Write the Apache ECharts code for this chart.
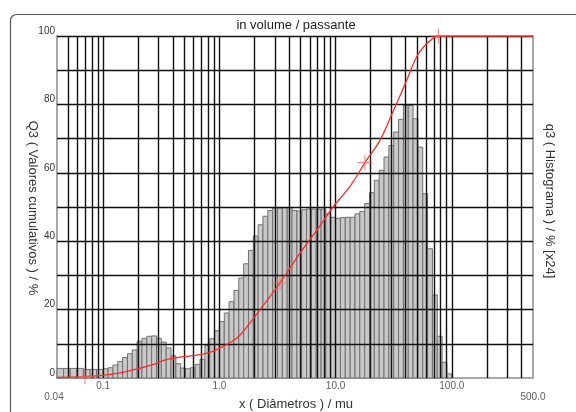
<!DOCTYPE html>
<html>
<head>
<meta charset="utf-8">
<script src="https://cdn.jsdelivr.net/npm/echarts@6/dist/echarts.min.js"></script>
<style>
html, body { margin: 0; padding: 0; background: #fff; }
#chart { width: 576px; height: 412px; }
</style>
</head>
<body>
<div id="chart"></div>
<script>
// Size class boundaries (µm) of the histogram
const classEdges = [
  0.04, 0.0456, 0.052, 0.0592, 0.0675, 0.077, 0.0877,
  0.1, 0.1101, 0.1212, 0.1334, 0.1468, 0.1616, 0.1778, 0.1957, 0.2154, 0.2371, 0.261, 0.2873,
  0.3162, 0.3481, 0.3831, 0.4217, 0.4642, 0.5109, 0.5623, 0.619, 0.6813, 0.7499, 0.8254, 0.9085,
  1, 1.101, 1.212, 1.334, 1.468, 1.616, 1.778, 1.957, 2.154, 2.371, 2.61, 2.873,
  3.162, 3.481, 3.831, 4.217, 4.642, 5.109, 5.623, 6.19, 6.813, 7.499, 8.254, 9.085,
  10, 11.01, 12.12, 13.34, 14.68, 16.16, 17.78, 19.57, 21.54, 23.71, 26.1, 28.73,
  31.62, 34.81, 38.31, 42.17, 46.42, 51.09, 56.23, 61.9, 68.13, 74.99, 82.54, 90.85,
  100
];

// q3 histogram heights per class (% x24)
const q3Hist = [
  2.8, 2.8, 2.8, 2.8, 2.5, 2.5, 2.5,
  2.7, 3.0, 3.8, 4.8, 6.0, 7.1, 8.2, 10.7, 11.6, 12.2, 12.3, 11.6,
  10.5, 8.8, 6.5, 4.2, 2.9, 2.7, 3.0, 4.0, 5.5, 9.5, 11.5, 13.8,
  16.5, 19.0, 22.3, 25.6, 29.2, 33.4, 37.3, 41.5, 44.8, 47.3, 49.0, 49.7,
  49.7, 49.8, 49.7, 49.0, 48.8, 49.2, 49.4, 49.4, 49.4, 49.4, 48.0, 47.0,
  46.7, 46.9, 47.0, 47.0, 48.0, 48.7, 51.0, 54.2, 57.8, 60.7, 64.6, 68.0,
  71.9, 75.6, 79.7, 79.7, 75.8, 67.5, 53.9, 37.8, 24.3, 12.2, 4.6, 1.2
];

// Q3 cumulative curve (µm, %)
const cumSizes  = [0.04, 0.0697, 0.1036, 0.1395, 0.1993, 0.279, 0.32, 0.39, 0.46, 0.62, 0.83, 1.0, 1.23, 1.5, 2.24, 3.32, 4.94, 7.34, 9.5, 13.3, 17.9, 24.1, 29.5, 39.7, 51.6, 65.4, 76.7, 100, 500];
const cumValues = [0.2, 0.4, 0.9, 1.5, 2.7, 4.1, 5.0, 5.7, 6.1, 6.6, 7.5, 8.7, 10.3, 12.5, 20.0, 27.8, 36.5, 44.5, 50.0, 56.0, 63.0, 69.5, 76.0, 86.0, 94.8, 98.7, 100, 100, 100];

// Cross markers placed on the cumulative curve
const markerSizes  = [0.0697, 3.32, 17.9, 76.7];
const markerValues = [0.4, 27.8, 63.0, 100];

// Axis tick labels
const xTickValues = [0.04, 0.1, 1, 10, 100, 500];
const xTickLabels = ['0.04', '0.1', '1.0', '10.0', '100.0', '500.0'];
const xTickLow    = [true, false, false, false, false, true];

// Log grid line positions (1..9 per decade inside the axis range)
const xGrid = [];
[0.01, 0.1, 1, 10, 100].forEach(function (d) {
  for (let m = 1; m <= 9; m++) {
    const v = +(m * d).toPrecision(3);
    if (v > 0.04 && v < 500) xGrid.push(v);
  }
});
const yGrid = [10, 20, 30, 40, 50, 60, 70, 80, 90, 100];

const FONT = '"Liberation Sans", Arial, sans-serif';

const chart = echarts.init(document.getElementById('chart'), null, { renderer: 'canvas' });

const histData = q3Hist.map(function (h, i) { return [classEdges[i], classEdges[i + 1], h]; });

const option = {
  animation: false,
  backgroundColor: '#fff',
  grid: { left: 57, right: 43, top: 36, bottom: 34, containLabel: false },
  xAxis: {
    type: 'log', logBase: 10, min: 0.04, max: 500,
    axisLine: { show: true, lineStyle: { color: '#a8a8a8', width: 2 } },
    axisTick: { show: false },
    axisLabel: { show: false },
    splitLine: { show: false }
  },
  yAxis: [
    {
      type: 'value', min: 0, max: 100, interval: 20,
      axisLine: { show: true, lineStyle: { color: '#a8a8a8', width: 2 } },
      axisTick: { show: false },
      axisLabel: { color: '#333', fontSize: 10, fontFamily: FONT, margin: 2, verticalAlign: 'bottom' },
      splitLine: { show: false }
    },
    {
      type: 'value', min: 0, max: 100, interval: 20, position: 'right',
      axisLine: { show: true, lineStyle: { color: '#a8a8a8', width: 2 } },
      axisTick: { show: false },
      axisLabel: { show: false },
      splitLine: { show: false }
    }
  ],
  graphic: [
    {
      type: 'rect', left: 8, top: 12, silent: true, z: -10,
      shape: { width: 640, height: 460, r: 6 },
      style: { fill: 'none', stroke: '#555', lineWidth: 1.2 }
    },
    {
      type: 'text', x: 296, y: 25, silent: true,
      style: { text: 'in volume / passante', align: 'center', verticalAlign: 'middle', font: '13px ' + FONT, fill: '#222' }
    },
    {
      type: 'text', x: 296, y: 404, silent: true,
      style: { text: 'x ( Diâmetros ) / mu', align: 'center', verticalAlign: 'middle', font: '13px ' + FONT, fill: '#333' }
    },
    {
      type: 'text', x: 33, y: 208, rotation: -Math.PI / 2, silent: true,
      style: { text: 'Q3 ( Valores cumulativos ) / %', align: 'center', verticalAlign: 'middle', font: '13px ' + FONT, fill: '#333' }
    },
    {
      type: 'text', x: 550, y: 201, rotation: -Math.PI / 2, silent: true,
      style: { text: 'q3 ( Histograma ) / % [x24]', align: 'center', verticalAlign: 'middle', font: '13px ' + FONT, fill: '#333' }
    }
  ],
  series: [
    {
      name: 'q3',
      type: 'custom',
      z: 1,
      encode: { x: [0, 1], y: 2 },
      data: histData,
      renderItem: function (params, api) {
        const p0 = api.coord([api.value(0), 0]);
        const p1 = api.coord([api.value(1), api.value(2)]);
        return {
          type: 'rect',
          shape: { x: p0[0], y: p1[1], width: p1[0] - p0[0], height: p0[1] - p1[1] },
          style: { fill: '#c9c9c9', stroke: '#707070', lineWidth: 1 }
        };
      }
    },
    {
      name: 'grid',
      type: 'line',
      z: 3,
      data: [[1, 0]],
      showSymbol: false,
      lineStyle: { opacity: 0 },
      silent: true,
      markLine: {
        silent: true,
        symbol: ['none', 'none'],
        label: { show: false },
        lineStyle: { color: '#111', width: 1.4, type: 'solid' },
        data: xGrid.map(function (v) { return { xAxis: v }; })
          .concat(yGrid.map(function (v) { return { yAxis: v }; }))
      }
    },
    {
      name: 'Q3',
      type: 'line',
      z: 5,
      smooth: 0.4,
      showSymbol: false,
      lineStyle: { color: '#ff2a2a', width: 1.3 },
      data: cumSizes.map(function (x, i) { return [x, cumValues[i]]; })
    },
    {
      name: 'marks',
      type: 'scatter',
      z: 6,
      symbol: 'path://M-0.07,-1 L0.07,-1 L0.07,1 L-0.07,1 Z M-1,-0.07 L1,-0.07 L1,0.07 L-1,0.07 Z',
      symbolSize: 15,
      itemStyle: { color: '#ff6060' },
      data: markerSizes.map(function (x, i) { return [x, markerValues[i]]; })
    },
    {
      name: 'xticks',
      type: 'scatter',
      z: 7,
      symbolSize: 0,
      silent: true,
      clip: false,
      data: xTickValues.map(function (x, i) {
        return {
          value: [x, 0],
          label: {
            show: true,
            position: 'bottom',
            distance: xTickLow[i] ? 14 : 3,
            offset: [i === 0 ? -3 : 0, 0],
            formatter: xTickLabels[i],
            color: '#333',
            fontSize: 10,
            fontFamily: FONT
          }
        };
      })
    }
  ]
};

chart.setOption(option);
</script>
</body>
</html>
